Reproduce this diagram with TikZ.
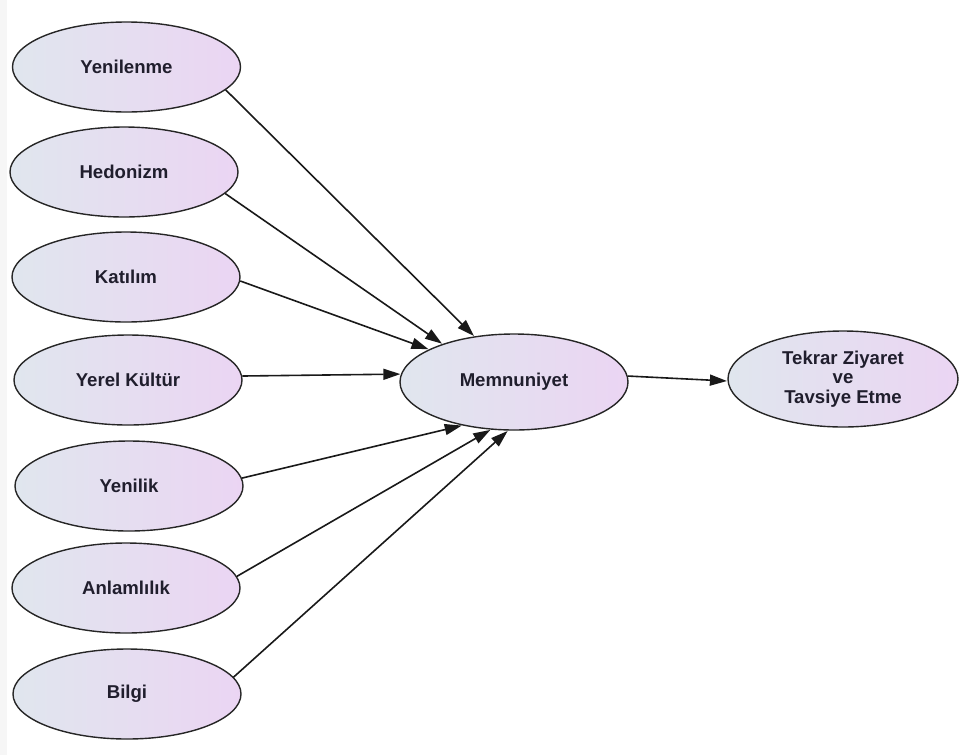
\documentclass[tikz,border=0pt]{standalone}
\usepackage{fontspec}
\setmainfont{Liberation Sans}
\usetikzlibrary{arrows.meta,shapes.geometric}
\definecolor{cLeft}{RGB}{224,230,238}
\definecolor{cRight}{RGB}{235,213,243}
\definecolor{cText}{RGB}{32,30,45}
\definecolor{cStrip}{RGB}{246,246,246}
\tikzset{
  ovalbox/.style={ellipse, draw=black!85, line width=1.4pt, left color=cLeft, right color=cRight,
    minimum width=228pt, minimum height=90pt, inner sep=0pt, text=cText,
    font=\bfseries\fontsize{18.6}{19.5}\selectfont, align=center},
  bigoval/.style={ovalbox, minimum height=96pt},
  link/.style={line width=1.6pt, black!90, -{Triangle[length=17pt,width=11pt]}, shorten >=0.5pt}
}
\begin{document}
\begin{tikzpicture}[x=1pt,y=-1pt]
\useasboundingbox (0,0) rectangle (963,755);
\fill[cStrip] (0,0) rectangle (7,755);
\node[ovalbox] (yen) at (126.5,67) {Yenilenme};
\node[ovalbox] (hed) at (124,172) {Hedonizm};
\node[ovalbox] (kat) at (126,277) {Katılım};
\node[ovalbox] (yer) at (128,380) {Yerel Kültür};
\node[ovalbox] (yni) at (129,486) {Yenilik};
\node[ovalbox] (anl) at (126,588) {Anlamlılık};
\node[ovalbox] (bil) at (127,694) {Bilgi};
\node[bigoval] (mem) at (514,382) {Memnuniyet};
\node[bigoval, minimum width=230pt] (tek) at (843,379) {Tekrar Ziyaret\\ve\\Tavsiye Etme};
\draw[link] (yen.-13) -- (mem.131);
\draw[link] (hed.-12) -- (mem.152);
\draw[link] (kat.-2) -- (mem.159);
\draw[link] (yer.2) -- (mem.176.5);
\draw[link] (yni.4) -- (mem.220);
\draw[link] (anl.6) -- (mem.244);
\draw[link] (bil.9) -- (mem.263);
\draw[link] (mem.3) -- (tek.181);
\end{tikzpicture}
\end{document}
